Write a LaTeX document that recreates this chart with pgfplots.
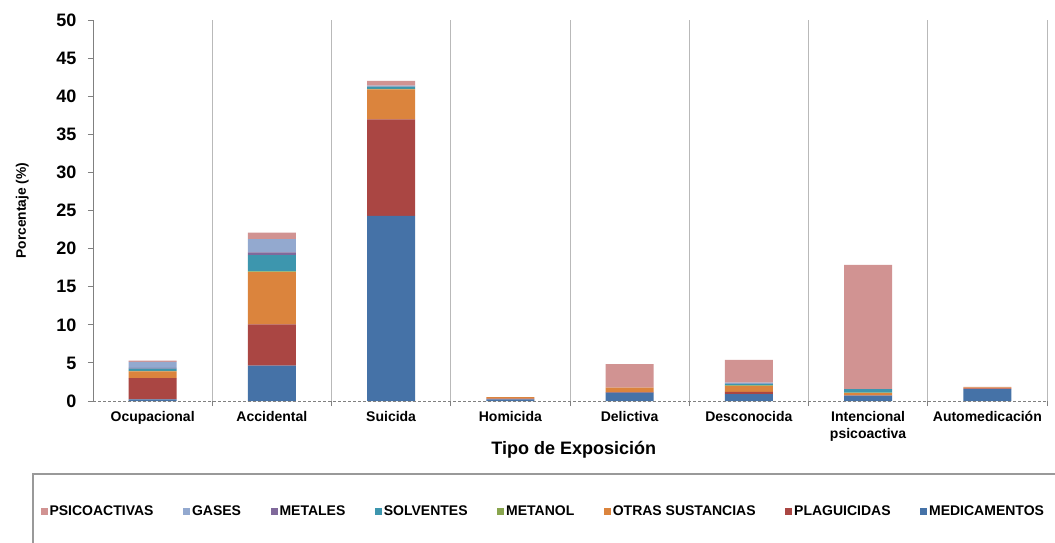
\documentclass[border=0pt]{standalone}
\usepackage{pgfplots}
\usepackage{pgfplotstable}
\pgfplotsset{compat=1.18}
\usepackage{fontspec}
\setmainfont{Liberation Sans}
\definecolor{cmed}{HTML}{4572A7}
\definecolor{cplag}{HTML}{AA4643}
\definecolor{cotras}{HTML}{DB843D}
\definecolor{cmetanol}{HTML}{89A54E}
\definecolor{csolv}{HTML}{3D96AE}
\definecolor{cmetales}{HTML}{80699B}
\definecolor{cgases}{HTML}{93A9CF}
\definecolor{cpsico}{HTML}{D19392}
\pgfplotsset{sqlegend/.style={legend image code/.code={\fill[##1,draw=none] (0pt,-3.5pt) rectangle (7pt,3.5pt);}}}
\pgfplotstableread{
x med plag otras metanol solv metales gases psico
0 0.20 2.80 0.90 0.05 0.30 0.10 0.80 0.15
1 4.65 5.40 6.85 0.10 2.15 0.35 1.75 0.85
2 24.30 12.65 3.95 0.05 0.30 0.05 0.10 0.60
3 0.20 0.10 0.20 0.00 0.00 0.00 0.00 0.00
4 1.10 0.05 0.60 0.00 0.00 0.00 0.00 3.10
5 0.90 0.30 0.80 0.05 0.20 0.00 0.15 3.00
6 0.70 0.05 0.30 0.05 0.45 0.00 0.00 16.30
7 1.55 0.10 0.15 0.00 0.00 0.00 0.00 0.05
}\datatable
\begin{document}
\begin{tikzpicture}[x=1pt,y=1pt]
\path[use as bounding box] (0,0) rectangle (1055,542);
\fill[white] (0,0) rectangle (1055,542);
\draw[gray!80, line width=1.3pt] (33,-20) -- (33,68) -- (1080,68);
\begin{axis}[
  at={(93pt,141pt)}, anchor=south west,
  scale only axis, width=954pt, height=381pt,
  xmin=-0.5, xmax=7.5, ymin=0, ymax=50,
  ybar stacked, bar width=48pt,
  sqlegend,
  axis lines*=left,
  axis on top,
  x axis line style={gray, dash pattern=on 3pt off 2pt, line width=0.9pt},
  y axis line style={gray, line width=0.9pt},
  tick align=outside,
  major tick length=5pt,
  tick style={gray, line width=0.9pt},
  xtick={0.5,1.5,...,7.5},
  xticklabels={},
  xmajorgrids=true,
  major x grid style={gray!55, line width=0.9pt},
  extra x ticks={0,1,2,3,4,5,6,7},
  extra x tick labels={Ocupacional,Accidental,Suicida,Homicida,Delictiva,Desconocida,{Intencional\\psicoactiva},Automedicación},
  extra x tick style={major tick length=0pt, xmajorgrids=false, tick label style={align=center, yshift=-7pt, font=\bfseries\fontsize{14}{17}\selectfont}},
  ytick={0,5,...,50},
  yticklabel style={xshift=-8pt, font=\bfseries\fontsize{18}{20}\selectfont},
  /pgf/number format/assume math mode=true,
  xlabel={Tipo de Exposición},
  xlabel style={at={(axis description cs:0.504,-0.1286)}, anchor=center, font=\bfseries\fontsize{18}{21}\selectfont},
  ylabel={Porcentaje (\%)},
  ylabel style={at={(axis description cs:-0.074,0.5)}, anchor=center, font=\bfseries\fontsize{13.8}{16}\selectfont},
  reverse legend,
  legend columns=8,
  legend style={at={(axis description cs:0.472,-0.289)}, anchor=center, draw=none, fill=none,
    font=\bfseries\fontsize{14}{16}\selectfont,
    /tikz/every even column/.append style={column sep=27.5pt}},
]
\addplot[fill=cmed, draw=none] table[x=x,y=med]{\datatable};
\addlegendentry{MEDICAMENTOS}
\addplot[fill=cplag, draw=none] table[x=x,y=plag]{\datatable};
\addlegendentry{PLAGUICIDAS}
\addplot[fill=cotras, draw=none] table[x=x,y=otras]{\datatable};
\addlegendentry{OTRAS SUSTANCIAS}
\addplot[fill=cmetanol, draw=none] table[x=x,y=metanol]{\datatable};
\addlegendentry{METANOL}
\addplot[fill=csolv, draw=none] table[x=x,y=solv]{\datatable};
\addlegendentry{SOLVENTES}
\addplot[fill=cmetales, draw=none] table[x=x,y=metales]{\datatable};
\addlegendentry{METALES}
\addplot[fill=cgases, draw=none] table[x=x,y=gases]{\datatable};
\addlegendentry{GASES}
\addplot[fill=cpsico, draw=none] table[x=x,y=psico]{\datatable};
\addlegendentry{PSICOACTIVAS}
\end{axis}
\end{tikzpicture}
\end{document}
